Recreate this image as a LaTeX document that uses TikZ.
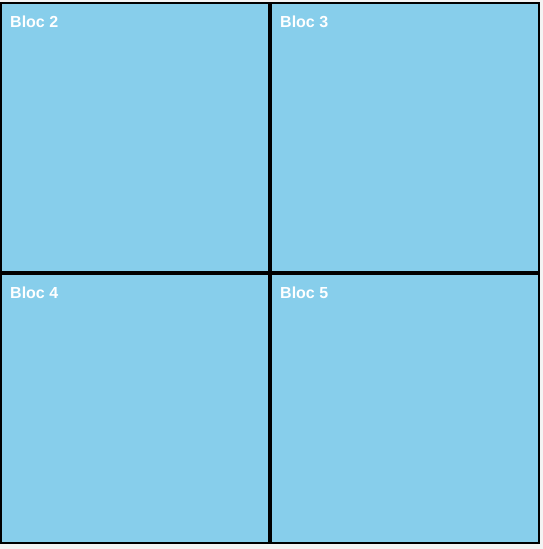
\documentclass[tikz,border=0pt]{standalone}
\usepackage{fontspec}
\newfontfamily\blocfont{Liberation Sans}
\usepackage{tikz}
\usetikzlibrary{positioning}
\definecolor{skyblue}{HTML}{87CEEB}
\definecolor{pagegray}{HTML}{F4F4F4}

\begin{document}
\begin{tikzpicture}[
  x=1pt,y=-1pt,node distance=2pt,
  bloc/.style={draw,line width=2pt,fill=skyblue,minimum width=268pt,
    minimum height=269pt,inner sep=0pt,outer sep=0pt},
  bloctext/.style={anchor=base west,text=white,inner sep=0pt,
    font=\blocfont\bfseries\fontsize{16}{19}\selectfont}]
\fill[pagegray] (0,0) rectangle (543,549);
\useasboundingbox (0,0) rectangle (543,549);
\node[bloc,anchor=north west] (bloc2) at (1,3) {};
\node[bloc,right=of bloc2] (bloc3) {};
\node[bloc,below=of bloc2] (bloc4) {};
\node[bloc,below=of bloc3] (bloc5) {};
\node[bloctext] (txt2) at ([shift={(9pt,-24pt)}]bloc2.north west) {Bloc 2};
\node[bloctext] (txt3) at ([shift={(9pt,-24pt)}]bloc3.north west) {Bloc 3};
\node[bloctext] (txt4) at ([shift={(9pt,-24pt)}]bloc4.north west) {Bloc 4};
\node[bloctext] (txt5) at ([shift={(9pt,-24pt)}]bloc5.north west) {Bloc 5};
\end{tikzpicture}
\end{document}
